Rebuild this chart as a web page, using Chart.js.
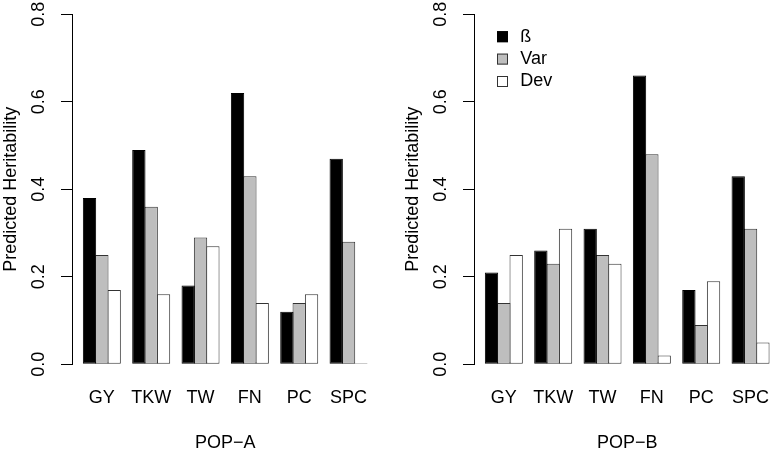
<!DOCTYPE html>
<html>
<head>
<meta charset="utf-8">
<script src="https://cdn.jsdelivr.net/npm/chart.js@4.4.1/dist/chart.umd.min.js"></script>
<style>
  html, body { margin: 0; padding: 0; background: #fff; overflow: hidden; }
  #wrap { position: relative; width: 771px; height: 455px; overflow: hidden; }
  .panel { position: absolute; top: 0; width: 402px; height: 455px; }
  #panel-a { left: 0; }
  #panel-b { left: 402px; }
</style>
</head>
<body>
<div id="wrap">
  <div class="panel" id="panel-a"><canvas id="chart-a" width="402" height="455"></canvas></div>
  <div class="panel" id="panel-b"><canvas id="chart-b" width="402" height="455"></canvas></div>
</div>
<script>
// traits on the x axis and the three heritability predictors
const traits = ['GY', 'TKW', 'TW', 'FN', 'PC', 'SPC']
const seriesNames = ['ß', 'Var', 'Dev']
const yTicks = [0, 0.2, 0.4, 0.6, 0.8]

// POP-A
const popABeta = [0.38, 0.49, 0.18, 0.62, 0.12, 0.47]
const popAVar = [0.25, 0.36, 0.29, 0.43, 0.14, 0.28]
const popADev = [0.17, 0.16, 0.27, 0.14, 0.16, 0.00]

// POP-B
const popBBeta = [0.21, 0.26, 0.31, 0.66, 0.17, 0.43]
const popBVar = [0.14, 0.23, 0.25, 0.48, 0.09, 0.31]
const popBDev = [0.25, 0.31, 0.23, 0.02, 0.19, 0.05]

const fills = ['#000000', '#bebebe', '#ffffff']
const edges = ['#000000', '#333333', '#333333']

Chart.defaults.font.family = '"Liberation Sans", Arial, Helvetica, sans-serif'
Chart.defaults.font.size = 18
Chart.defaults.color = '#000'

// R style legend: small boxes top left of the plot area
const boxLegend = {
    id: 'boxLegend',
    afterDatasetsDraw(chart) {
        const { ctx, chartArea } = chart
        const left = chartArea.left + 23
        ctx.save()
        ctx.font = '18px "Liberation Sans", Arial, sans-serif'
        ctx.textBaseline = 'middle'
        ctx.lineWidth = 1
        chart.data.datasets.forEach((ds, i) => {
            const cy = chartArea.top + 22.4 + i * 22.4
            ctx.fillStyle = ds.backgroundColor
            ctx.fillRect(left, cy - 5.5, 11, 11)
            ctx.strokeStyle = ds.borderColor
            ctx.strokeRect(left + 0.5, cy - 5, 10, 10)
            ctx.fillStyle = '#000'
            ctx.fillText(ds.label, left + 23.3, cy)
        })
        ctx.restore()
    }
}

const makeChart = (id, popName, groups, withLegend) => {

    const chartContext = document.getElementById(id).getContext('2d')

    new Chart(chartContext, {
        type: 'bar',
        data: {
            datasets: groups.map((values, k) => ({
                label: seriesNames[k],
                data: traits.map((t, i) => ({ x: i, y: values[i] })),
                backgroundColor: fills[k],
                borderColor: edges[k],
                borderWidth: 1,
                borderSkipped: false,
                categoryPercentage: 0.75,
                barPercentage: 1.08,
                minBarLength: 1
            }))
        },
        options: {
            responsive: false,
            animation: false,
            layout: { padding: { top: 14.3, right: 23.6, bottom: 0, left: 0 } },
            plugins: {
                legend: { display: false },
                tooltip: { enabled: false }
            },
            scales: {
                x: {
                    type: 'linear',
                    offset: false,
                    min: -0.605,
                    max: 5.605,
                    afterFit: s => {
                        s.height = 90.7
                        s.paddingLeft = 0
                        s.paddingRight = 0
                    },
                    grid: { display: false, drawTicks: true, tickLength: 23 },
                    border: { display: false },
                    ticks: {
                        stepSize: 1,
                        includeBounds: false,
                        autoSkip: false,
                        maxRotation: 0,
                        padding: 0,
                        callback: v => traits[v] ?? ''
                    },
                    title: { display: true, text: popName, padding: { top: 0, bottom: 1.2 } }
                },
                y: {
                    min: 0,
                    max: 0.8,
                    afterFit: s => {
                        s.width = 72
                        s.paddingTop = 0
                        s.paddingBottom = 0
                    },
                    afterBuildTicks: s => { s.ticks = yTicks.map(v => ({ value: v })) },
                    border: { display: true, color: '#000', width: 1 },
                    grid: { drawOnChartArea: false, drawTicks: true, tickLength: 11, color: '#000' },
                    ticks: {
                        minRotation: 90,
                        maxRotation: 90,
                        crossAlign: 'center',
                        padding: 9.6,
                        autoSkip: false,
                        callback: v => v.toFixed(1)
                    },
                    title: { display: true, text: 'Predicted Heritability', padding: { top: 0, bottom: 0 } }
                }
            }
        },
        plugins: withLegend ? [boxLegend] : []
    })

}

makeChart('chart-a', 'POP\u2212A', [popABeta, popAVar, popADev], false)
makeChart('chart-b', 'POP\u2212B', [popBBeta, popBVar, popBDev], true)
</script>
</body>
</html>
